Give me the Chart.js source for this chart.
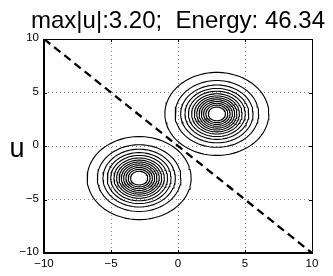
<!DOCTYPE html>
<html>
<head>
<meta charset="utf-8">
<script src="https://cdn.jsdelivr.net/npm/chart.js@4.4.0/dist/chart.umd.min.js"></script>
<style>
  html, body { margin: 0; padding: 0; background: #fff; }
  #wrap { width: 333px; height: 276px; }
</style>
</head>
<body>
<div id="wrap"><canvas id="chart"></canvas></div>
<script>
// ---------------- DATA ----------------
const titleText = "max|u|:3.20;  Energy: 46.34";
const yLabel = "u";
const xTicks = [-10, -5, 0, 5, 10];
const yTicks = [-10, -5, 0, 5, 10];

// contour rings (radius in data units)
const ringRadii = [0.64, 0.82, 0.99, 1.16, 1.33, 1.5, 1.68, 1.88, 2.12, 2.38, 2.7, 3.12, 3.88];
// the two blobs
const blobCentersX = [2.9, -2.9];
const blobCentersY = [3.0, -3.0];

// dashed diagonal
const diagX = [-10, 10];
const diagY = [10, -10];

// ---------------- HELPERS ----------------
function ring(cx, cy, r) {
  const pts = [];
  for (let i = 0; i <= 90; i++) {
    const a = (i / 90) * Math.PI * 2;
    pts.push({ x: cx + r * Math.cos(a), y: cy + r * Math.sin(a) });
  }
  return pts;
}

function fmt(v) {
  return v < 0 ? "\u2212" + Math.abs(v) : String(v);
}

const datasets = [];
blobCentersX.forEach((cx, b) => {
  ringRadii.forEach(r => {
    datasets.push({
      data: ring(cx, blobCentersY[b], r),
      showLine: true,
      borderColor: "#000",
      borderWidth: 1.1,
      pointRadius: 0,
      tension: 0,
    });
  });
});

datasets.push({
  data: diagX.map((x, i) => ({ x, y: diagY[i] })),
  showLine: true,
  borderColor: "#000",
  borderWidth: 2.3,
  borderDash: [8, 5],
  pointRadius: 0,
});

// ---------------- FRAME / TEXT ----------------
const framePlugin = {
  id: "frame",
  afterDraw(chart) {
    const { ctx, chartArea: a, scales } = chart;
    ctx.save();

    // box
    ctx.strokeStyle = "#000";
    ctx.lineWidth = 1;
    ctx.beginPath();
    ctx.moveTo(a.left, a.top + 0.5);
    ctx.lineTo(a.right + 0.5, a.top + 0.5);
    ctx.lineTo(a.right + 0.5, a.bottom);
    ctx.stroke();
    ctx.lineWidth = 2;
    ctx.beginPath();
    ctx.moveTo(a.left, a.top);
    ctx.lineTo(a.left, a.bottom);
    ctx.lineTo(a.right + 1, a.bottom);
    ctx.stroke();

    // inward tick marks
    ctx.lineWidth = 1;
    ctx.beginPath();
    xTicks.forEach(v => {
      const px = Math.round(scales.x.getPixelForValue(v)) + 0.5;
      ctx.moveTo(px, a.bottom); ctx.lineTo(px, a.bottom - 3);
      ctx.moveTo(px, a.top); ctx.lineTo(px, a.top + 3);
    });
    yTicks.forEach(v => {
      const py = Math.round(scales.y.getPixelForValue(v)) + 0.5;
      ctx.moveTo(a.left, py); ctx.lineTo(a.left + 3, py);
      ctx.moveTo(a.right, py); ctx.lineTo(a.right - 3, py);
    });
    ctx.stroke();

    // tick labels
    ctx.fillStyle = "#000";
    ctx.font = "11.5px 'Liberation Sans', Arial, sans-serif";
    ctx.textAlign = "center";
    ctx.textBaseline = "middle";
    xTicks.forEach(v => {
      ctx.fillText(fmt(v), scales.x.getPixelForValue(v), a.bottom + 11);
    });
    ctx.textAlign = "right";
    yTicks.forEach(v => {
      ctx.fillText(fmt(v), a.left - 5, scales.y.getPixelForValue(v) - 1);
    });

    // y label (upright)
    ctx.font = "27px 'Liberation Sans', Arial, sans-serif";
    ctx.textAlign = "center";
    ctx.textBaseline = "alphabetic";
    ctx.fillText(yLabel, 17, 157);

    // title
    ctx.font = "24px 'Liberation Sans', Arial, sans-serif";
    ctx.fillText(titleText, (a.left + a.right) / 2, 28);

    ctx.restore();
  },
};

// ---------------- CHART ----------------
const gridColor = c => (Math.abs(c.tick.value) === 10 ? "rgba(0,0,0,0)" : "#8a8a8a");

new Chart(document.getElementById("chart"), {
  type: "scatter",
  data: { datasets },
  options: {
    responsive: true,
    maintainAspectRatio: false,
    animation: false,
    layout: { padding: { left: 0, top: 39, right: 21, bottom: 0 } },
    plugins: { legend: { display: false }, tooltip: { enabled: false } },
    scales: {
      x: {
        type: "linear",
        min: -10, max: 10,
        ticks: { stepSize: 5, display: false },
        grid: { color: gridColor, lineWidth: 1, drawTicks: false },
        border: { display: false, dash: [1, 3] },
        afterFit: s => { s.height = 23; },
      },
      y: {
        type: "linear",
        min: -10, max: 10,
        ticks: { stepSize: 5, display: false },
        grid: { color: gridColor, lineWidth: 1, drawTicks: false },
        border: { display: false, dash: [1, 3] },
        afterFit: s => { s.width = 44; },
      },
    },
  },
  plugins: [framePlugin],
});
</script>
</body>
</html>
